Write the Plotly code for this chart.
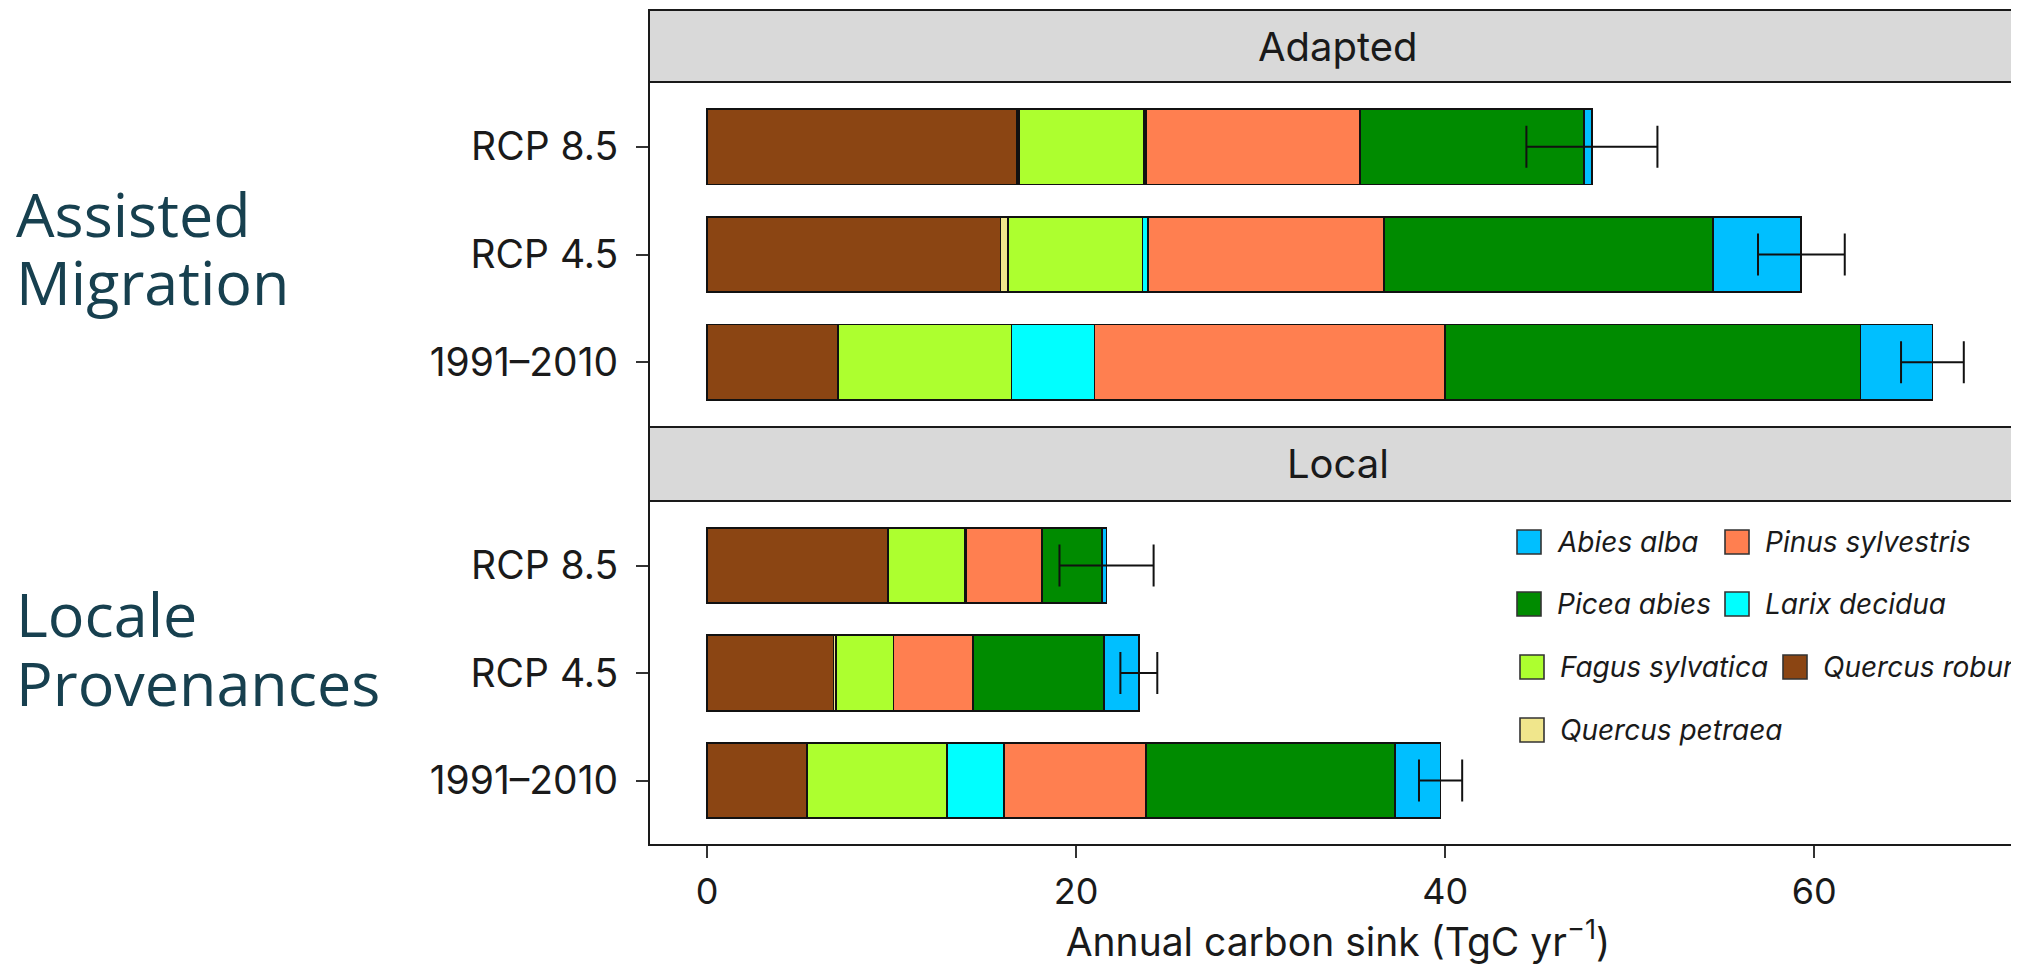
import plotly.graph_objects as go

# ---------------- data ----------------
categories = ["1991–2010", "RCP 4.5", "RCP 8.5"]
panels = ["Adapted", "Local"]
species = ["Quercus robur", "Quercus petraea", "Fagus sylvatica", "Larix decidua",
           "Pinus sylvestris", "Picea abies", "Abies alba"]
species_colors = ["#8B4513", "#F0E68C", "#ADFF2F", "#00FFFF", "#FF7F50", "#008B00", "#00BFFF"]

# values per category [1991–2010, RCP 4.5, RCP 8.5], TgC yr-1
adapted_quercus_robur = [7.1, 15.9, 16.8]
adapted_quercus_petraea = [0.0, 0.4, 0.1]
adapted_fagus_sylvatica = [9.4, 7.3, 6.8]
adapted_larix_decidua = [4.5, 0.3, 0.1]
adapted_pinus_sylvestris = [19.0, 12.8, 11.6]
adapted_picea_abies = [22.5, 17.8, 12.1]
adapted_abies_alba = [3.9, 4.8, 0.45]
adapted_error = [1.7, 2.35, 3.55]

local_quercus_robur = [5.4, 6.85, 9.8]
local_quercus_petraea = [0.0, 0.15, 0.0]
local_fagus_sylvatica = [7.6, 3.1, 4.2]
local_larix_decidua = [3.1, 0.0, 0.05]
local_pinus_sylvestris = [7.7, 4.3, 4.1]
local_picea_abies = [13.5, 7.1, 3.25]
local_abies_alba = [2.45, 1.9, 0.25]
local_error = [1.17, 1.0, 2.55]

x_tick_values = [0, 20, 40, 60]
x_title = "Annual carbon sink (TgC yr<sup>−1</sup>)"
group_labels = [["Assisted", "Migration"], ["Locale", "Provenances"]]
legend_rows = [["Abies alba", "Pinus sylvestris"],
               ["Picea abies", "Larix decidua"],
               ["Fagus sylvatica", "Quercus robur"],
               ["Quercus petraea"]]

adapted_series = [adapted_quercus_robur, adapted_quercus_petraea, adapted_fagus_sylvatica,
                  adapted_larix_decidua, adapted_pinus_sylvestris, adapted_picea_abies,
                  adapted_abies_alba]
local_series = [local_quercus_robur, local_quercus_petraea, local_fagus_sylvatica,
                local_larix_decidua, local_pinus_sylvestris, local_picea_abies,
                local_abies_alba]

# ---------------- layout geometry ----------------
# the page adds an 8px body margin; screen px = figure px + 8
OFF = 8
W, H = 2019, 971 - OFF
L, R, T = 649 - OFF, 0, 10 - OFF
PANEL_BOTTOM_SCREEN = 845
B = H - (PANEL_BOTTOM_SCREEN - OFF)
PW, PH = W - L - R, H - T - B


def px_x(sx):
    return (sx - OFF - L) / PW


def px_y(sy):
    return (H - B - (sy - OFF)) / PH


strip1 = (px_y(82), 1.0)
panel1 = (px_y(427), px_y(82))
strip2 = (px_y(501), px_y(427))
panel2 = (0.0, px_y(501))

X0_SCREEN = 707
PX_PER_UNIT = 18.455
x_range = [(649 - X0_SCREEN) / PX_PER_UNIT, (W + OFF - X0_SCREEN) / PX_PER_UNIT]

TICK_FONT = "Inter, Lato, sans-serif"
INK = "#1a1a1a"

fig = go.Figure()

# ---------------- bars ----------------
for panel_idx, (series, errs) in enumerate([(adapted_series, adapted_error),
                                            (local_series, local_error)]):
    xa = "x" if panel_idx == 0 else "x2"
    ya = "y" if panel_idx == 0 else "y2"
    for name, color, vals in zip(species, species_colors, series):
        fig.add_trace(go.Bar(
            x=vals, y=categories, orientation="h", name=name,
            marker=dict(color=color, line=dict(color="#111111", width=1.8)),
            xaxis=xa, yaxis=ya, showlegend=False, legendgroup=name,
        ))
    totals = [sum(s[i] for s in series) for i in range(len(categories))]
    fig.add_trace(go.Scatter(
        x=totals, y=categories, mode="markers", name="error",
        marker=dict(size=1, color="rgba(0,0,0,0)"),
        error_x=dict(type="data", array=errs, symmetric=True, color="#111111",
                     thickness=2, width=21),
        xaxis=xa, yaxis=ya, showlegend=False, hoverinfo="skip",
    ))

# ---------------- axes ----------------
yaxis_common = dict(
    type="category", categoryorder="array", categoryarray=categories,
    range=[-0.6, 2.6], ticks="outside", ticklen=12, tickwidth=2, tickcolor="#333333",
    tickfont=dict(family=TICK_FONT, size=39, color=INK), showgrid=False,
    zeroline=False, showline=False, ticklabelstandoff=10, automargin=False,
)
fig.update_layout(
    xaxis=dict(domain=[0, 1], anchor="y", range=x_range, matches="x2",
               showticklabels=False, ticks="", showgrid=False, zeroline=False,
               showline=False, automargin=False),
    yaxis=dict(domain=list(panel1), anchor="x", **yaxis_common),
    xaxis2=dict(domain=[0, 1], anchor="y2", range=x_range, tickmode="array",
                tickvals=x_tick_values, ticks="outside", ticklen=12, tickwidth=2,
                tickcolor="#333333", tickfont=dict(family=TICK_FONT, size=36, color=INK),
                showgrid=False, zeroline=False, showline=False, automargin=False,
                ticklabelstandoff=3,
                title=dict(text=x_title, font=dict(family=TICK_FONT, size=39, color=INK),
                           standoff=14)),
    yaxis2=dict(domain=list(panel2), anchor="x2", **yaxis_common),
)

# ---------------- strips and panel frames ----------------
shapes = []
annotations = []
for (y0, y1), label in [(strip1, panels[0]), (strip2, panels[1])]:
    shapes.append(dict(type="rect", xref="paper", yref="paper", x0=0, x1=1.02,
                       y0=y0, y1=y1, fillcolor="#D9D9D9",
                       line=dict(color="#1a1a1a", width=2), layer="below"))
    annotations.append(dict(text=label, xref="paper", yref="paper", x=px_x(1338),
                            y=(y0 + y1) / 2, xanchor="center", yanchor="middle",
                            showarrow=False,
                            font=dict(family=TICK_FONT, size=40, color=INK)))
for (y0, y1) in [panel1, panel2]:
    shapes.append(dict(type="rect", xref="paper", yref="paper", x0=0, x1=1.02,
                       y0=y0, y1=y1, fillcolor="rgba(0,0,0,0)",
                       line=dict(color="#1a1a1a", width=2), layer="above"))

# ---------------- group labels on the left ----------------
label_centers_px = [[213, 282], [613, 682]]
for lines, centers in zip(group_labels, label_centers_px):
    for text, cy in zip(lines, centers):
        annotations.append(dict(text=text, xref="paper", yref="paper", x=px_x(14),
                                y=px_y(cy), xanchor="left", yanchor="middle",
                                showarrow=False,
                                font=dict(family="Open Sans, sans-serif", size=61,
                                          weight=400, color="#17404F")))

# ---------------- legend (drawn in the panel) ----------------
legend_row_y_px = [542, 604, 667, 730]
legend_key_x_px = [[1517, 1725], [1517, 1725], [1520, 1783], [1520]]
KEY = 24
for row, cy, xs in zip(legend_rows, legend_row_y_px, legend_key_x_px):
    for name, kx in zip(row, xs):
        color = species_colors[species.index(name)]
        shapes.append(dict(type="rect", xref="paper", yref="paper",
                           x0=px_x(kx), x1=px_x(kx + KEY),
                           y0=px_y(cy + KEY / 2), y1=px_y(cy - KEY / 2),
                           fillcolor=color, line=dict(color="#333333", width=1.6),
                           layer="above"))
        annotations.append(dict(text=name, xref="paper", yref="paper",
                                x=px_x(kx + 38), y=px_y(cy), xanchor="left",
                                yanchor="middle", showarrow=False,
                                font=dict(family=TICK_FONT, size=28, color=INK,
                                          style="italic")))

fig.update_layout(
    width=W, height=H,
    margin=dict(l=L, r=R, t=T, b=B, pad=0),
    barmode="stack", bargap=0.3,
    paper_bgcolor="white", plot_bgcolor="white",
    showlegend=False,
    shapes=shapes, annotations=annotations,
)

fig.write_html("out.html")
